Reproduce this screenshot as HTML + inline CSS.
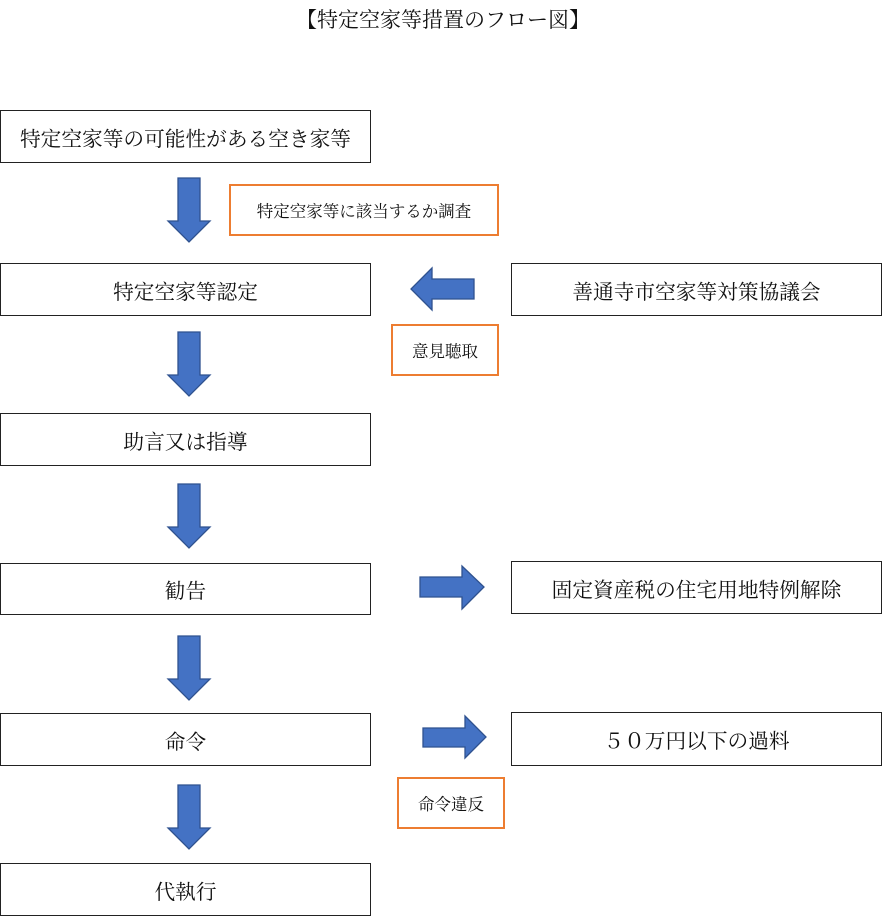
<!DOCTYPE html>
<html><head><meta charset="utf-8"><style>
html,body{margin:0;padding:0;background:#fff;width:886px;height:919px;overflow:hidden}
svg{position:absolute;left:0;top:0}
.b{position:absolute;box-sizing:border-box;border:1.3px solid #222;background:#fff;display:flex;align-items:center;justify-content:center;font-family:"Liberation Serif","Noto Serif CJK SC",serif;font-size:20.7px;color:#111;white-space:nowrap}
.o{border:2px solid #ED7D31;font-size:16.5px}
.t{position:absolute;left:0;width:886px;top:4px;text-align:center;font-family:"Liberation Serif","Noto Serif CJK SC",serif;font-size:21px;color:#111}
</style></head><body>
<div class="t">【特定空家等措置のフロー図】</div>
<svg width="886" height="919">
<g fill="#4472C4" stroke="#2F528F" stroke-width="1.3">
<polygon points="178,178 200,178 200,221 210,221 189,242 168,221 178,221"/>
<polygon points="178,332 200,332 200,375 210,375 189,396 168,375 178,375"/>
<polygon points="178,484 200,484 200,527 210,527 189,548 168,527 178,527"/>
<polygon points="178,636 200,636 200,679 210,679 189,700 168,679 178,679"/>
<polygon points="178,785 200,785 200,828 210,828 189,849 168,828 178,828"/>
<polygon points="474,279 474,299 432,299 432,310 411,289 432,268 432,279"/>
<polygon points="420,577 462,577 462,566 484,587 462,609 462,597 420,597"/>
<polygon points="423,728 465,728 465,716 486,737 465,758 465,747 423,747"/>
</g>
</svg>
<div class="b" style="left:0;top:110px;width:371px;height:53px">特定空家等の可能性がある空き家等</div>
<div class="b" style="left:0;top:263px;width:371px;height:53px">特定空家等認定</div>
<div class="b" style="left:0;top:413px;width:371px;height:53px">助言又は指導</div>
<div class="b" style="left:0;top:563px;width:371px;height:52px">勧告</div>
<div class="b" style="left:0;top:713px;width:371px;height:53px">命令</div>
<div class="b" style="left:0;top:863px;width:371px;height:53px">代執行</div>
<div class="b" style="left:511px;top:263px;width:371px;height:53px">善通寺市空家等対策協議会</div>
<div class="b" style="left:511px;top:561px;width:371px;height:53px">固定資産税の住宅用地特例解除</div>
<div class="b" style="left:511px;top:712px;width:371px;height:54px">５０万円以下の過料</div>
<div class="b o" style="left:229px;top:184px;width:270px;height:52px">特定空家等に該当するか調査</div>
<div class="b o" style="left:391px;top:324px;width:108px;height:52px">意見聴取</div>
<div class="b o" style="left:397px;top:777px;width:108px;height:52px">命令違反</div>
</body></html>
